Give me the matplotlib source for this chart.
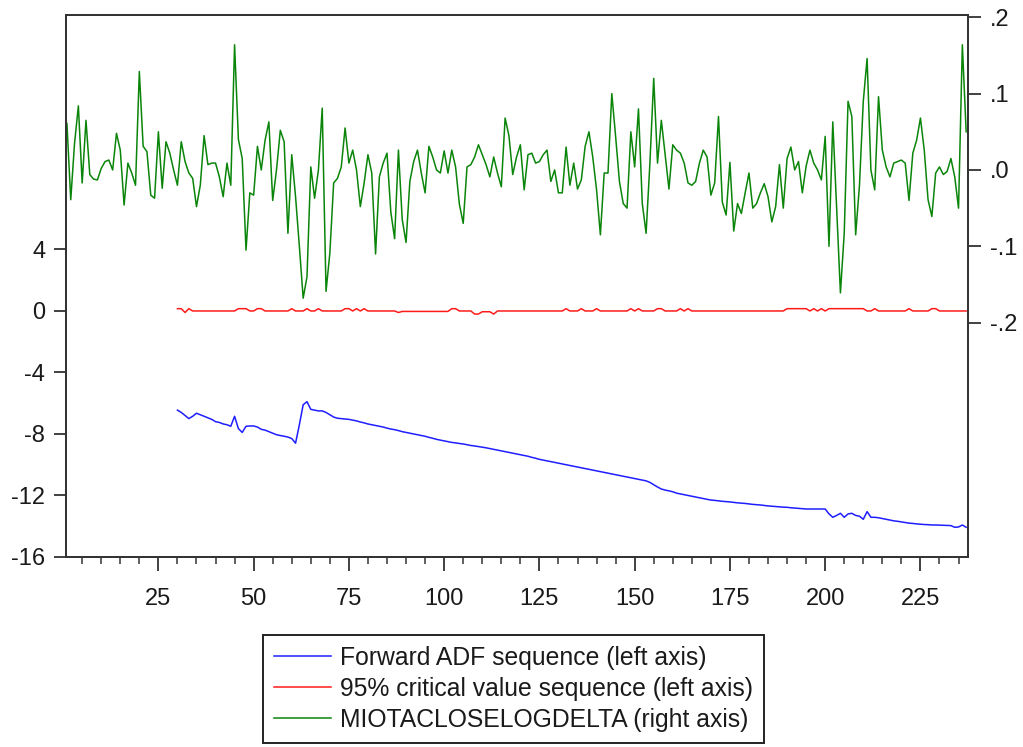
import numpy as np
import matplotlib
matplotlib.use("Agg")
import matplotlib.pyplot as plt
from matplotlib.ticker import FixedLocator, FuncFormatter

plt.rcParams["font.family"] = ["Liberation Sans", "DejaVu Sans"]

# Observation numbers
obs_all = list(range(1, 238))
obs_adf = list(range(30, 238))

# Log-difference series (right axis)
miota_logdelta = [
    0.061, -0.039, 0.035, 0.084, -0.017, 0.065, -0.006, -0.012, -0.013, 0.002,
    0.011, 0.013, 0.000, 0.048, 0.026, -0.046, 0.009, -0.004, -0.020, 0.129,
    0.031, 0.024, -0.033, -0.037, 0.050, -0.024, 0.037, 0.022, 0.000, -0.020,
    0.037, 0.011, -0.004, -0.011, -0.048, -0.020, 0.045, 0.007, 0.009, 0.009,
    -0.009, -0.035, 0.009, -0.020, 0.164, 0.040, 0.015, -0.105, -0.030, -0.033,
    0.031, 0.000, 0.039, 0.063, -0.040, 0.000, 0.052, 0.037, -0.083, 0.020,
    -0.035, -0.100, -0.168, -0.140, 0.004, -0.037, 0.000, 0.081, -0.159, -0.109,
    -0.017, -0.011, 0.004, 0.055, 0.009, 0.026, 0.000, -0.048, -0.017, 0.020,
    -0.004, -0.110, -0.009, 0.009, 0.022, -0.055, -0.090, 0.026, -0.065, -0.095,
    -0.015, 0.011, 0.026, -0.004, -0.030, 0.031, 0.017, 0.000, -0.004, 0.025,
    -0.004, 0.026, 0.004, -0.045, -0.070, 0.004, 0.007, 0.017, 0.033, 0.020,
    0.007, -0.009, 0.017, -0.004, -0.022, 0.068, 0.045, -0.006, 0.017, 0.033,
    -0.026, 0.020, 0.022, 0.009, 0.011, 0.020, 0.026, -0.015, 0.000, -0.030,
    -0.030, 0.030, -0.020, 0.009, -0.025, -0.013, 0.031, 0.050, 0.017, -0.026,
    -0.085, -0.004, -0.004, 0.100, 0.044, -0.015, -0.044, -0.050, 0.050, 0.004,
    0.080, -0.044, -0.083, 0.009, 0.120, 0.009, 0.065, 0.020, -0.025, 0.033,
    0.026, 0.022, 0.009, -0.017, -0.020, -0.015, 0.009, 0.026, 0.017, -0.033,
    -0.017, 0.070, -0.042, -0.059, 0.010, -0.080, -0.044, -0.057, -0.030, -0.004,
    -0.050, -0.044, -0.030, -0.018, -0.035, -0.068, -0.048, 0.007, -0.050, 0.015,
    0.030, 0.000, 0.011, -0.030, 0.005, 0.026, 0.009, 0.000, -0.013, 0.044,
    -0.100, 0.063, -0.048, -0.161, -0.083, 0.090, 0.070, -0.085, -0.020, 0.090,
    0.146, 0.000, -0.026, 0.096, 0.026, 0.004, -0.009, 0.009, 0.011, 0.013,
    0.009, -0.040, 0.022, 0.039, 0.068, 0.026, -0.039, -0.061, -0.004, 0.004,
    -0.006, -0.002, 0.015, -0.009, -0.050, 0.164, 0.050,
]

# Forward ADF statistics (left axis)
forward_adf = [
    -6.45, -6.60, -6.80, -7.00, -6.85, -6.65, -6.75, -6.85, -6.95, -7.05,
    -7.20, -7.25, -7.35, -7.40, -7.50, -6.85, -7.65, -7.90, -7.50, -7.48,
    -7.48, -7.55, -7.70, -7.75, -7.85, -7.95, -8.05, -8.10, -8.15, -8.20,
    -8.30, -8.60, -7.40, -6.10, -5.90, -6.40, -6.45, -6.50, -6.50, -6.60,
    -6.75, -6.90, -6.98, -7.00, -7.03, -7.05,
    -7.10, -7.15, -7.22, -7.28, -7.35, -7.40, -7.45, -7.50, -7.55, -7.62,
    -7.68, -7.72, -7.78, -7.85, -7.90, -7.95, -8.00, -8.05, -8.10, -8.15,
    -8.22, -8.28, -8.35, -8.40, -8.45,
    -8.50, -8.55, -8.58, -8.62, -8.65, -8.70, -8.75, -8.78, -8.82, -8.86,
    -8.90, -8.95, -9.00, -9.05, -9.10, -9.15, -9.20, -9.25, -9.30, -9.35,
    -9.40, -9.45, -9.52, -9.58, -9.65,
    -9.70, -9.75, -9.80, -9.85, -9.90, -9.95, -10.00, -10.05, -10.10, -10.15,
    -10.20, -10.25, -10.30, -10.35, -10.40, -10.45, -10.50, -10.55, -10.60, -10.65,
    -10.70, -10.75, -10.80, -10.85, -10.90,
    -10.95, -11.00, -11.05, -11.15, -11.30, -11.45, -11.58, -11.65, -11.70, -11.76,
    -11.85, -11.90, -11.95, -12.00, -12.05, -12.10, -12.15, -12.20, -12.25, -12.30,
    -12.32, -12.35, -12.38, -12.40, -12.42,
    -12.45, -12.48, -12.50, -12.52, -12.55, -12.58, -12.60, -12.62, -12.65, -12.68,
    -12.70, -12.72, -12.74, -12.76, -12.77, -12.80, -12.82, -12.84, -12.86, -12.88,
    -12.88, -12.88, -12.88, -12.88, -12.88,
    -13.20, -13.42, -13.30, -13.16, -13.42, -13.20, -13.16, -13.30, -13.35, -13.55,
    -13.05, -13.42, -13.42, -13.45, -13.50, -13.55, -13.60, -13.65, -13.68, -13.72,
    -13.76, -13.80, -13.82, -13.85, -13.87, -13.89, -13.90, -13.92, -13.92, -13.93,
    -13.94, -13.95, -13.96, -14.07, -14.05, -13.92, -14.07,
]

# 95% critical values (left axis)
critical_95 = [
    0.15, 0.15, -0.10, 0.15, 0.00, 0.00, 0.00, 0.00, 0.00, 0.00,
    0.00, 0.00, 0.00, 0.00, 0.00, 0.00, 0.15, 0.15, 0.15, 0.00,
    0.00, 0.15, 0.15, 0.00, 0.00, 0.00, 0.00, 0.00, 0.00, 0.00,
    0.15, 0.00, 0.00, 0.00, 0.15, 0.00, 0.00, 0.15, 0.00, 0.00,
    0.00, 0.00, 0.00, 0.00, 0.15, 0.15, 0.00, 0.15, 0.00, 0.15,
    0.00, 0.00, 0.00, 0.00, 0.00, 0.00, 0.00, 0.00, -0.10, -0.03,
    -0.03, -0.03, -0.03, -0.03, -0.03, -0.03, -0.03, -0.03, -0.03, -0.03,
    -0.03, -0.03, 0.15, 0.15, 0.00, 0.00, 0.00, 0.00, -0.20, -0.20,
    -0.05, -0.05, -0.05, -0.20, 0.00, 0.00, 0.00, 0.00, 0.00, 0.00,
    0.00, 0.00, 0.00, 0.00, 0.00, 0.00, 0.00, 0.00, 0.00, 0.00,
    0.00, 0.00, 0.15, 0.00, 0.00, 0.00, 0.15, 0.00, 0.00, 0.00,
    0.15, 0.00, 0.00, 0.00, 0.00, 0.00, 0.00, 0.00, 0.00, 0.15,
    0.00, 0.15, 0.00, 0.00, 0.00, 0.00, 0.15, 0.15, 0.00, 0.00,
    0.00, 0.00, 0.15, 0.00, 0.15, 0.00, 0.00, 0.00, 0.00, 0.00,
    0.00, 0.00, 0.00, 0.00, 0.00, 0.00, 0.00, 0.00, 0.00, 0.00,
    0.00, 0.00, 0.00, 0.00, 0.00, 0.00, 0.00, 0.00, 0.00, 0.00,
    0.15, 0.15, 0.15, 0.15, 0.15, 0.15, 0.00, 0.15, 0.00, 0.15,
    0.00, 0.15, 0.15, 0.15, 0.15, 0.15, 0.15, 0.15, 0.15, 0.15,
    0.15, 0.00, 0.00, 0.15, 0.00, 0.00, 0.00, 0.00, 0.00, 0.00,
    0.00, 0.00, 0.15, 0.00, 0.00, 0.00, 0.00, 0.00, 0.15, 0.15,
    0.00, 0.00, 0.00, 0.00, 0.00, 0.00, 0.00, 0.00,
]

x_major = [25, 50, 75, 100, 125, 150, 175, 200, 225]
x_minor = [v for v in range(5, 240, 5) if v % 25 != 0]
left_ticks = [4, 0, -4, -8, -12, -16]
right_ticks = [-0.2, -0.1, 0.0, 0.1, 0.2]

legend_labels = [
    "Forward ADF sequence (left axis)",
    "95% critical value sequence (left axis)",
    "MIOTACLOSELOGDELTA (right axis)",
]

FS = 17
LEG_FS = 17.8
TXT = "#1a1a1a"
FRAME = "#333333"

fig = plt.figure(figsize=(10.23, 7.47), dpi=100)
ax = fig.add_axes([0.0645, 0.2544, 0.8818, 0.7255])
ax2 = ax.twinx()

l_adf, = ax.plot(obs_adf, forward_adf, color="#1e1eff", lw=1.1)
l_cv, = ax.plot(obs_adf, critical_95, color="#ff1a1a", lw=1.1)
l_g, = ax2.plot(obs_all, miota_logdelta, color="#0a850a", lw=1.1)

ax.set_xlim(0.75, 237.5)
ax.set_ylim(-16, 19.25)
ax2.set_ylim(-0.507, 0.203)

ax.xaxis.set_major_locator(FixedLocator(x_major))
ax.xaxis.set_minor_locator(FixedLocator(x_minor))
ax.yaxis.set_major_locator(FixedLocator(left_ticks))
ax2.yaxis.set_major_locator(FixedLocator(right_ticks))


def short_decimal(v, pos):
    s = f"{v:.1f}"
    if s.startswith("-0"):
        s = "-" + s[2:]
    elif s.startswith("0"):
        s = s[1:]
    return s


ax2.yaxis.set_major_formatter(FuncFormatter(short_decimal))
ax.yaxis.set_major_formatter(FuncFormatter(lambda v, p: f"{int(v)}"))

ax.tick_params(axis="x", which="major", direction="out", length=10, width=1.3,
               color=FRAME, labelsize=FS, labelcolor=TXT, pad=12)
ax.tick_params(axis="x", which="minor", direction="out", length=5, width=1.1,
               color=FRAME)
ax.tick_params(axis="y", direction="out", length=9, width=1.3, color=FRAME,
               labelsize=FS, labelcolor=TXT, pad=6)
ax2.tick_params(axis="y", direction="out", length=9, width=1.3, color=FRAME,
                labelsize=FS, labelcolor=TXT, pad=7)

for a in (ax, ax2):
    for sp in a.spines.values():
        sp.set_color(FRAME)
        sp.set_linewidth(1.3)

leg = fig.legend([l_adf, l_cv, l_g], legend_labels, loc="upper center",
                 bbox_to_anchor=(0.502, 0.150), fontsize=LEG_FS, frameon=True,
                 fancybox=False, edgecolor="#222222", framealpha=1,
                 handlelength=2.3, handletextpad=0.35, labelspacing=0.28,
                 borderpad=0.45, borderaxespad=0)
leg.get_frame().set_linewidth(1.4)
for t in leg.get_texts():
    t.set_color(TXT)

fig.savefig("out.png", dpi=100)
